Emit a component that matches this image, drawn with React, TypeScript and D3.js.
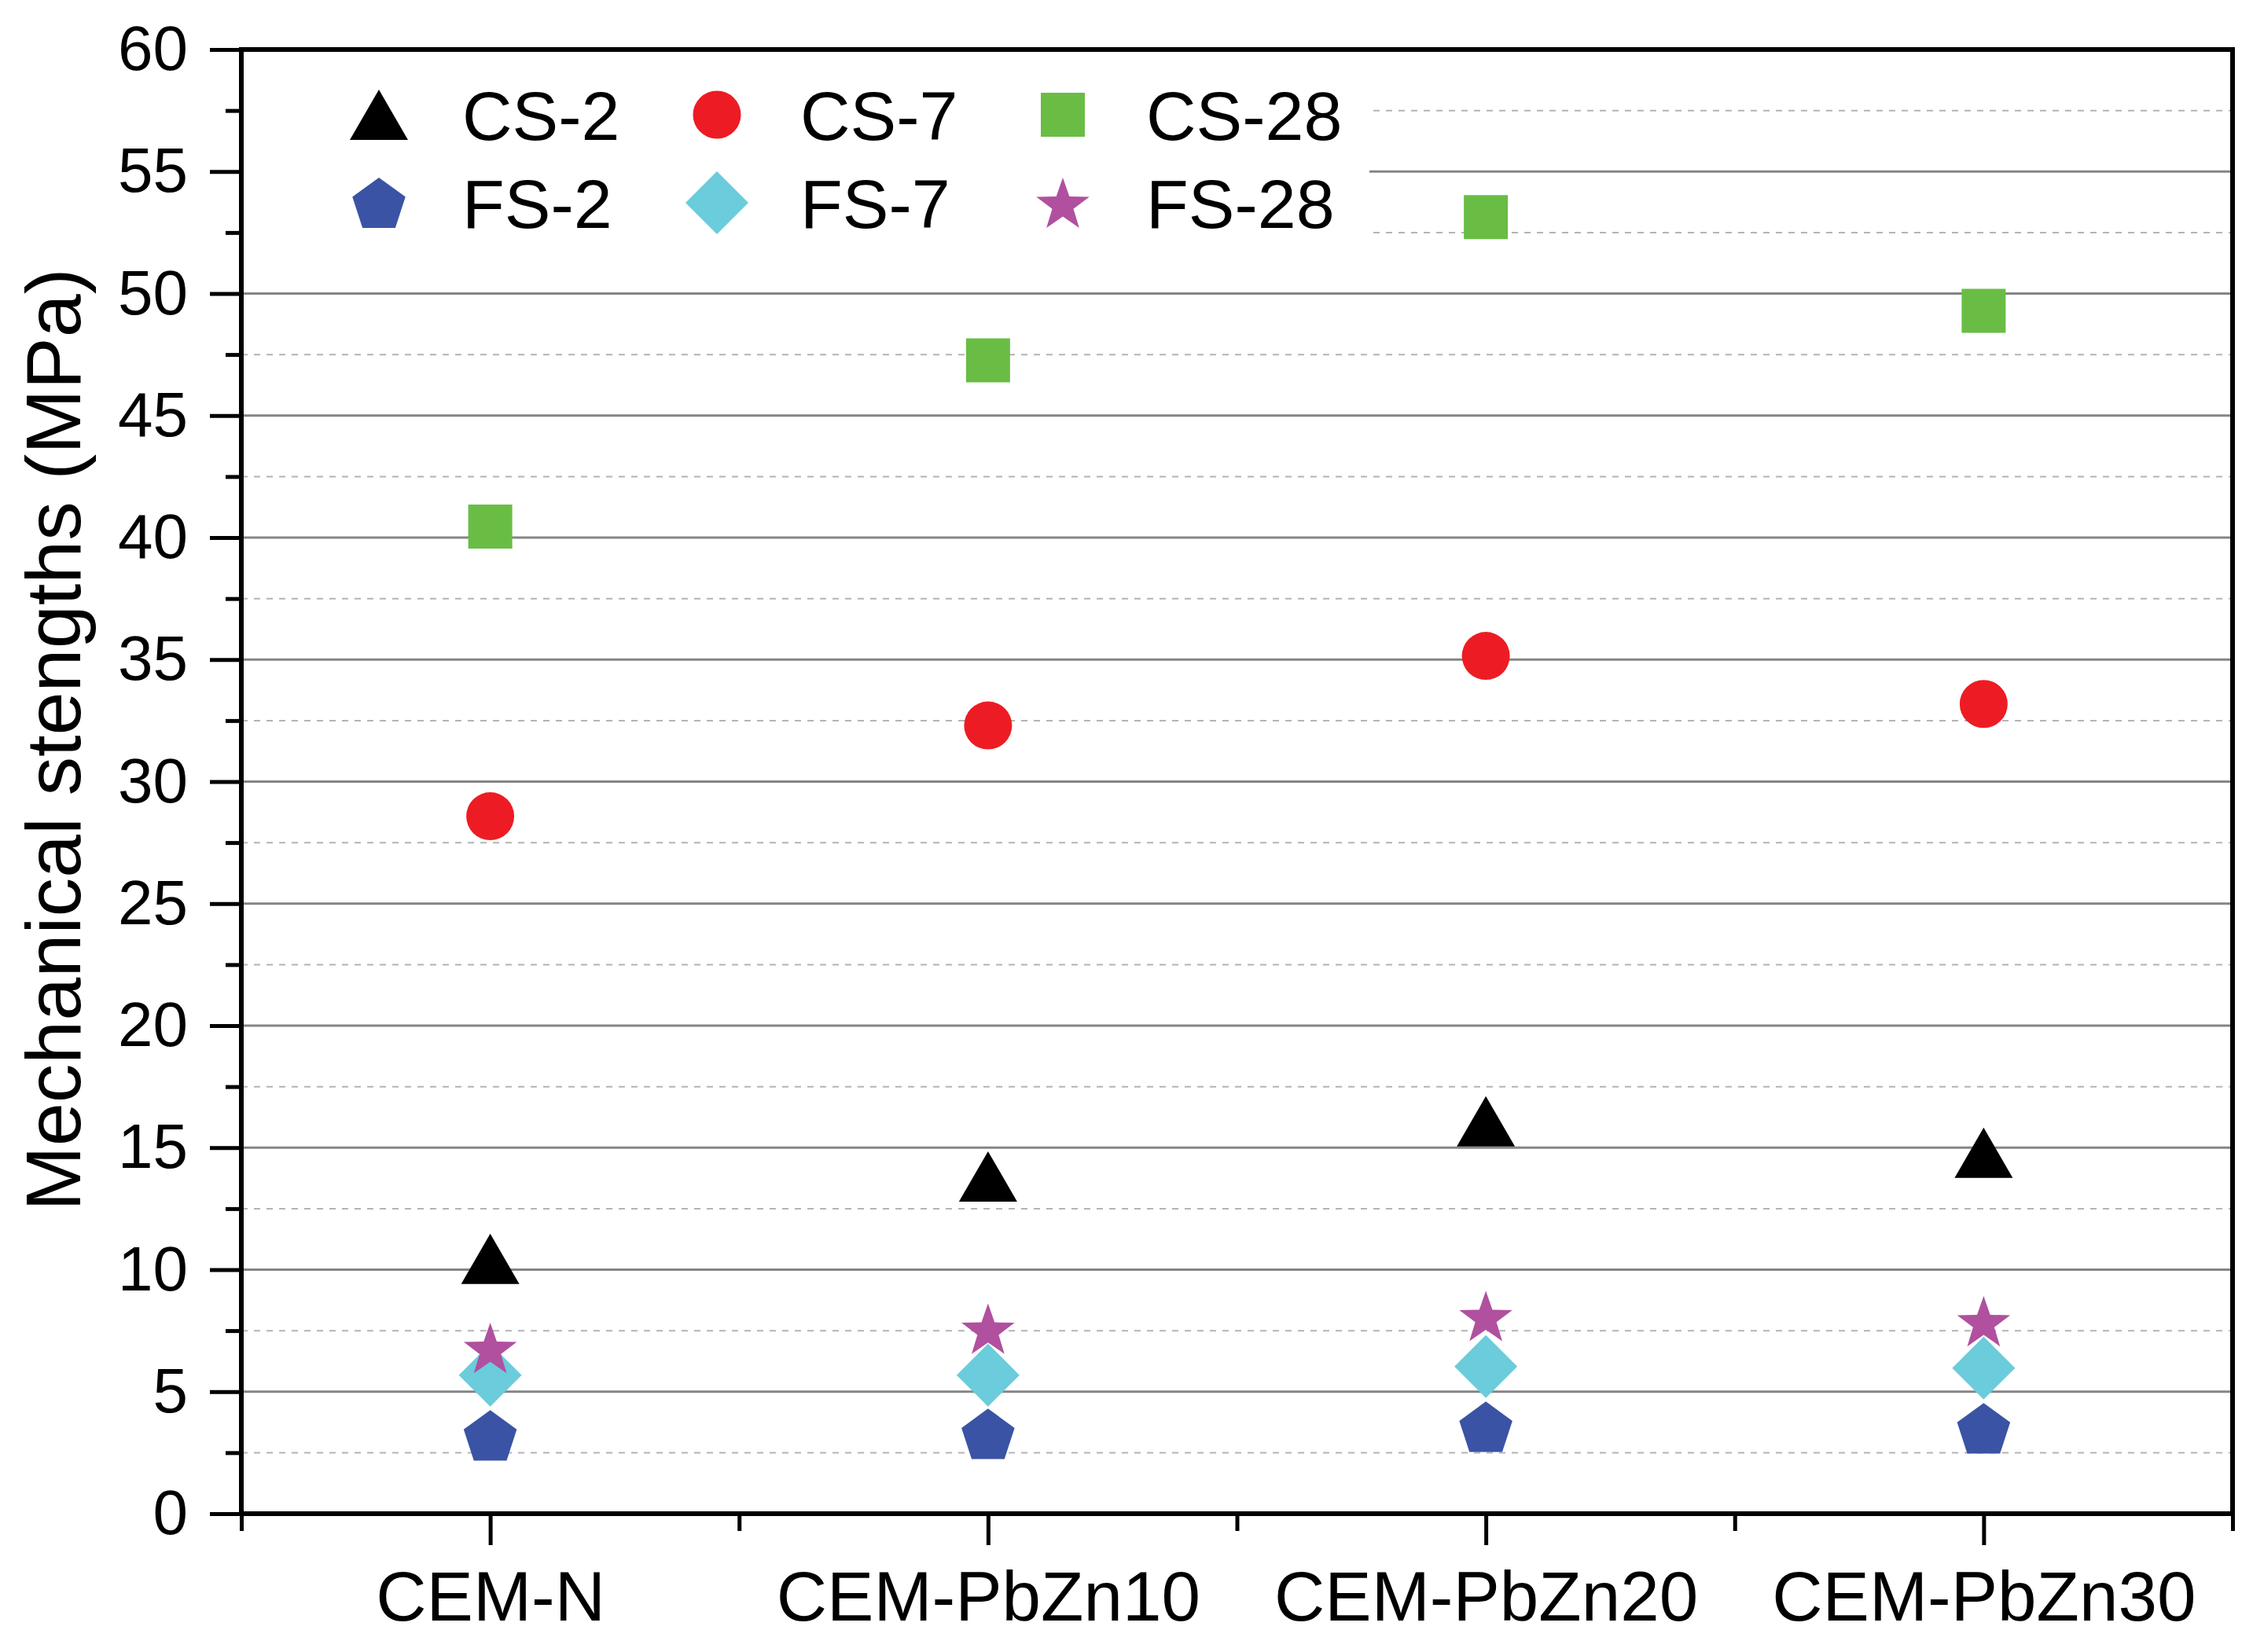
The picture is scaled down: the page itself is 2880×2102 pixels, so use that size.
import React, { useEffect, useRef } from 'react';
import * as d3 from 'd3';

const categories = ['CEM-N', 'CEM-PbZn10', 'CEM-PbZn20', 'CEM-PbZn30'];
const seriesNames = ['CS-2', 'CS-7', 'CS-28', 'FS-2', 'FS-7', 'FS-28'];
const cs2 = [10.44, 13.82, 16.08, 14.79];
const cs7 = [28.58, 32.3, 35.15, 33.18];
const cs28 = [40.45, 47.26, 53.13, 49.29];
const fs2 = [3.21, 3.27, 3.56, 3.5];
const fs7 = [5.68, 5.68, 6.03, 5.97];
const fs28 = [6.79, 7.58, 8.1, 7.89];
const yTickValues = [0, 5, 10, 15, 20, 25, 30, 35, 40, 45, 50, 55, 60];
const yMinorValues = [2.5, 7.5, 12.5, 17.5, 22.5, 27.5, 32.5, 37.5, 42.5, 47.5, 52.5, 57.5];

const W = 2880;
const H = 2102;
const FONT = '"Liberation Sans", Arial, sans-serif';

// polygon helper, shape centred on its bounding box
const poly = (pts: [number, number][]) => 'M' + pts.map(p => p.join(',')).join('L') + 'Z';

const shapes: Record<string, () => string> = {
  triangle: () => poly([[0, -32], [37, 32], [-37, 32]]),
  circle: () => {
    const p = d3.path();
    p.arc(0, 0, 30.5, 0, 2 * Math.PI);
    return p.toString();
  },
  square: () => poly([[-28, -28], [28, -28], [28, 28], [-28, 28]]),
  pentagon: () => {
    const R = 35.5;
    const off = 0.0955 * R;
    const pts: [number, number][] = d3.range(5).map(k => {
      const a = (-90 + 72 * k) * Math.PI / 180;
      return [R * Math.cos(a), R * Math.sin(a) + off];
    });
    return poly(pts);
  },
  diamond: () => poly([[0, -40], [40, 0], [0, 40], [-40, 0]]),
  star: () => {
    const R = 35.5;
    const r = R * 0.4;
    const off = 0.0955 * R;
    const pts: [number, number][] = d3.range(10).map(k => {
      const a = (-90 + 36 * k) * Math.PI / 180;
      const rr = k % 2 === 0 ? R : r;
      return [rr * Math.cos(a), rr * Math.sin(a) + off];
    });
    return poly(pts);
  },
};

const series = [
  { name: seriesNames[0], values: cs2, shape: 'triangle', color: '#000000' },
  { name: seriesNames[1], values: cs7, shape: 'circle', color: '#ED1C24' },
  { name: seriesNames[2], values: cs28, shape: 'square', color: '#69BD45' },
  { name: seriesNames[3], values: fs2, shape: 'pentagon', color: '#3A53A4' },
  { name: seriesNames[4], values: fs7, shape: 'diamond', color: '#6BCCDB' },
  { name: seriesNames[5], values: fs28, shape: 'star', color: '#B0509F' },
];

const App: React.FC = () => {
  const svgRef = useRef<SVGSVGElement>(null);

  useEffect(() => {
    if (!svgRef.current) return;
    const svg = d3.select(svgRef.current);
    svg.selectAll('*').remove();

    const left = 307;
    const right = 2840;
    const top = 63;
    const bottom = 1926;

    const x = d3.scaleLinear().domain([0.5, categories.length + 0.5]).range([left, right]);
    const y = d3.scaleLinear().domain([0, 60]).range([bottom, top]);

    svg.append('rect').attr('width', W).attr('height', H).attr('fill', '#fff');

    // grid
    const grid = svg.append('g');
    yMinorValues.forEach(v => {
      grid.append('line')
        .attr('x1', left).attr('x2', right)
        .attr('y1', y(v)).attr('y2', y(v))
        .attr('stroke', '#b4b4b4')
        .attr('stroke-width', 2)
        .attr('stroke-dasharray', '8,8');
    });
    yTickValues.filter(v => v > 0 && v < 60).forEach(v => {
      grid.append('line')
        .attr('x1', left).attr('x2', right)
        .attr('y1', y(v)).attr('y2', y(v))
        .attr('stroke', '#858585')
        .attr('stroke-width', 3);
    });

    // legend background hides the grid
    svg.append('rect')
      .attr('x', left).attr('y', top)
      .attr('width', 1742 - left).attr('height', 335 - top)
      .attr('fill', '#fff');

    // markers
    series.forEach(s => {
      svg.append('g').selectAll('path')
        .data(s.values)
        .join('path')
        .attr('d', shapes[s.shape]())
        .attr('transform', (d, i) => `translate(${x(i + 1)},${y(d)})`)
        .attr('fill', s.color);
    });

    // legend
    const legCols = [482, 912, 1352];
    const legRows = [146, 258];
    series.forEach((s, i) => {
      const cx = legCols[i % 3];
      const cy = legRows[Math.floor(i / 3)];
      const g = svg.append('g').attr('transform', `translate(${cx},${cy})`);
      g.append('path').attr('d', shapes[s.shape]()).attr('fill', s.color);
      g.append('text')
        .attr('x', 106)
        .attr('y', 32)
        .attr('font-family', FONT)
        .attr('font-size', 88)
        .attr('fill', '#000')
        .text(s.name);
    });

    // y axis ticks
    const yAxisMajor = d3.axisLeft(y).tickValues(yTickValues).tickSize(40).tickPadding(28).tickFormat(d3.format('d'));
    const yAxisMinor = d3.axisLeft(y).tickValues(yMinorValues).tickSize(20).tickFormat(() => '');
    const yg = svg.append('g').attr('transform', `translate(${left},0)`).call(yAxisMajor);
    const ygm = svg.append('g').attr('transform', `translate(${left},0)`).call(yAxisMinor);
    [yg, ygm].forEach(g => {
      g.select('.domain').remove();
      g.selectAll('line').attr('stroke', '#000').attr('stroke-width', 5);
    });
    yg.selectAll('text')
      .attr('font-family', FONT)
      .attr('font-size', 80)
      .attr('fill', '#000');

    // x axis ticks
    const xAxisMajor = d3.axisBottom(x)
      .tickValues([1, 2, 3, 4])
      .tickSize(40)
      .tickPadding(33)
      .tickFormat(d => categories[(d as number) - 1]);
    const xAxisMinor = d3.axisBottom(x).tickValues([0.5, 1.5, 2.5, 3.5, 4.5]).tickSize(22).tickFormat(() => '');
    const xg = svg.append('g').attr('transform', `translate(0,${bottom})`).call(xAxisMajor);
    const xgm = svg.append('g').attr('transform', `translate(0,${bottom})`).call(xAxisMinor);
    [xg, xgm].forEach(g => {
      g.select('.domain').remove();
      g.selectAll('line').attr('stroke', '#000').attr('stroke-width', 5);
    });
    xg.selectAll('text')
      .attr('font-family', FONT)
      .attr('font-size', 89)
      .attr('fill', '#000');

    // frame
    svg.append('rect')
      .attr('x', left).attr('y', top)
      .attr('width', right - left).attr('height', bottom - top)
      .attr('fill', 'none')
      .attr('stroke', '#000')
      .attr('stroke-width', 6);

    // y title
    svg.append('text')
      .attr('transform', `translate(102,${941}) rotate(-90)`)
      .attr('text-anchor', 'middle')
      .attr('font-family', FONT)
      .attr('font-size', 99)
      .attr('fill', '#000')
      .text('Mechanical stengths (MPa)');
  }, []);

  return (
    <svg
      ref={svgRef}
      width={W}
      height={H}
      style={{ position: 'absolute', left: 0, top: 0, display: 'block' }}
    />
  );
};

export default App;
